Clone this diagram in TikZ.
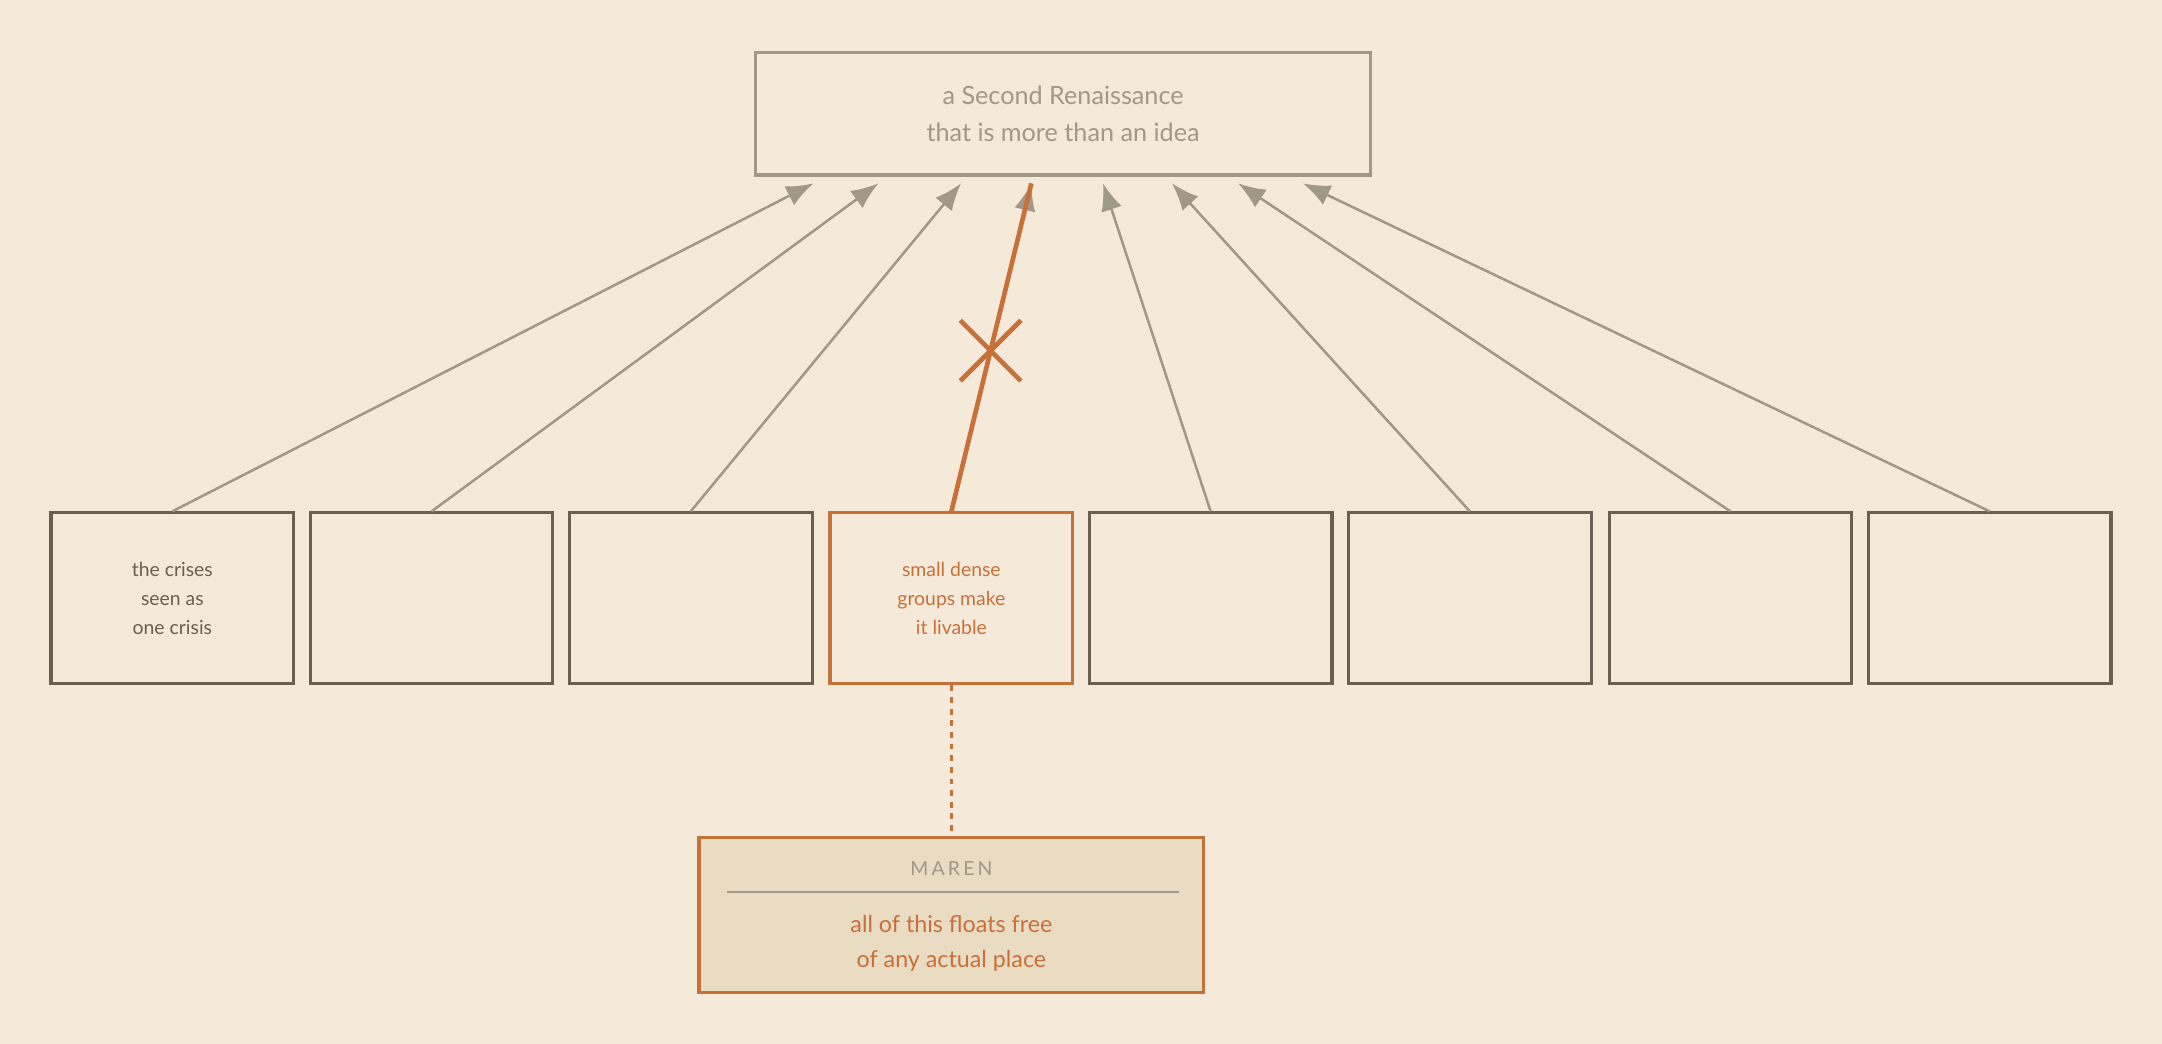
\documentclass[tikz,border=0pt]{standalone}
\usepackage{fontspec}
\setmainfont{Lato}
\usetikzlibrary{arrows.meta}
\definecolor{paper}{HTML}{F5EADA}
\definecolor{ink}{HTML}{6B5E52}
\definecolor{soft}{HTML}{A09888}
\definecolor{rust}{HTML}{C8703A}
\definecolor{note}{HTML}{EADBC3}
\tikzset{
  leaf/.style={draw=ink,line width=1.6pt,minimum width=4.4cm,minimum height=3.1cm,
    align=center,text=ink,font=\fontsize{10}{15}\selectfont},
  feed/.style={draw=soft,line width=1.3pt,-{Latex[length=14pt,width=11pt]}}
}
\begin{document}
\begin{tikzpicture}[x=0.025cm,y=-0.025cm,semithick]
\fill[paper](0,0)rectangle(1568,757);
\node[draw=soft,line width=1.6pt,minimum width=11.15cm,minimum height=2.22cm,align=center,
  text=soft,font=\fontsize{13}{19}\selectfont](goal) at (771,82.5)
  {a Second Renaissance\\that is more than an idea};
% the eight boxes
\foreach \i/\x in {1/125,2/313,3/501,5/878,6/1066,7/1255,8/1443}
  \node[leaf](b\i) at (\x,434) {};
\node[text=ink,font=\fontsize{10}{15}\selectfont,align=center] at (b1) {the crises\\seen as\\one crisis};
\node[leaf,draw=rust,text=rust](b4) at (690,434) {small dense\\groups make\\it livable};
\foreach \i/\x in {1/590,2/637,3/697,4/748,5/800,6/850,7/898,8/945}
  \draw[feed](b\i.north)--(\x,133);
\draw[rust,line width=2.4pt](b4.north)--(748,133) coordinate[pos=0.49](cut);
\draw[rust,line width=2.4pt]([shift={(-22,-22)}]cut)--([shift={(22,22)}]cut)
  ([shift={(-22,22)}]cut)--([shift={(22,-22)}]cut);
% note
\node[draw=rust,fill=note,line width=1.6pt,minimum width=9.15cm,minimum height=2.82cm](maren) at (690,663.5) {};
\draw[rust,line width=1.6pt,dashed](b4.south)--(maren.north);
\draw[soft,line width=1pt](527,647)--(855,647);
\node[text=soft,font=\fontsize{10}{12}\selectfont] at (690,630) {M\,A\,R\,E\,N};
\node[text=rust,align=center,font=\fontsize{12}{18}\selectfont] at (690,684) {all of this floats free\\of any actual place};
\end{tikzpicture}
\end{document}
